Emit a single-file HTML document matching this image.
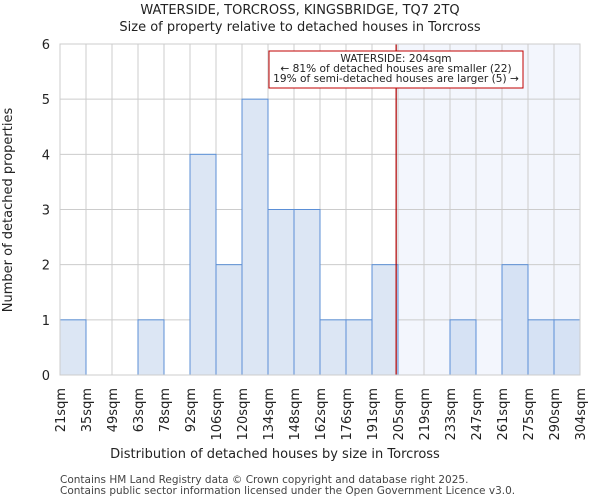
<!DOCTYPE html>
<html><head><meta charset="utf-8"><style>
body{margin:0;background:#fff;font-family:"DejaVu Sans","Liberation Sans",sans-serif;}
</style></head><body>
<svg id="c" width="600" height="500" xmlns="http://www.w3.org/2000/svg" font-family="DejaVu Sans, Liberation Sans, sans-serif">
<text x="300" y="14" text-anchor="middle" font-size="13" fill="#222">WATERSIDE, TORCROSS, KINGSBRIDGE, TQ7 2TQ</text>
<text x="300" y="31" text-anchor="middle" font-size="13" fill="#222">Size of property relative to detached houses in Torcross</text>
<g id="plot"></g>
<text x="275" y="458" text-anchor="middle" font-size="13" fill="#222">Distribution of detached houses by size in Torcross</text>
<text transform="translate(12,210) rotate(-90)" text-anchor="middle" font-size="13" fill="#222">Number of detached properties</text>
<text x="60" y="483" font-size="10.5" fill="#444">Contains HM Land Registry data © Crown copyright and database right 2025.</text>
<text x="60" y="494" font-size="10.5" fill="#444">Contains public sector information licensed under the Open Government Licence v3.0.</text>
</svg>
<script>
const labels=["21sqm","35sqm","49sqm","63sqm","78sqm","92sqm","106sqm","120sqm","134sqm","148sqm","162sqm","176sqm","191sqm","205sqm","219sqm","233sqm","247sqm","261sqm","275sqm","290sqm","304sqm"];
const edges=[21,35,49,63,78,92,106,120,134,148,162,176,191,205,219,233,247,261,275,290,304];
const counts=[1,0,0,1,0,4,2,5,3,3,1,1,2,0,0,1,0,2,1,1];
const yTicks=[0,1,2,3,4,5,6];
const propertySize=204;
const NS="http://www.w3.org/2000/svg";
const X0=60,X1=580,Y0=375,Y1=44;
const n=counts.length;
const xi=i=>X0+(X1-X0)*i/n;
function xv(v){for(let i=0;i<edges.length-1;i++){if(v<=edges[i+1])return xi(i)+(v-edges[i])/(edges[i+1]-edges[i])*(xi(i+1)-xi(i));}return X1;}
const y=v=>Y0-(Y0-Y1)*v/6;
const g=document.getElementById('plot');
function mk(t,a){const e=document.createElementNS(NS,t);for(const k in a)e.setAttribute(k,a[k]);g.appendChild(e);return e;}
const px=xv(propertySize);
let e=mk('rect',{x:px,y:Y1,width:X1-px,height:Y0-Y1,fill:'#f3f6fd'});


for(let i=0;i<=n;i++){e=mk('line',{x1:xi(i),x2:xi(i),y1:Y1,y2:Y0,stroke:'#cccccc','stroke-width':1});

}
yTicks.forEach(t=>{e=mk('line',{x1:X0,x2:X1,y1:y(t),y2:y(t),stroke:'#cccccc','stroke-width':1});


e=mk('text',{x:X0-10,y:y(t)+5,'text-anchor':'end','font-size':13,fill:'#222'});e.textContent=t;

});
counts.forEach((c,i)=>{if(c>0){const right=xi(i)>=px;e=mk('rect',{x:xi(i),y:y(c),width:xi(i+1)-xi(i),height:Y0-y(c),fill:right?'#d6e2f4':'#dce6f4',stroke:'#5b8fd6','stroke-width':1});

}});
labels.forEach((l,i)=>{e=mk('text',{transform:`translate(${xi(i)+5},388) rotate(-90)`,'text-anchor':'end','font-size':13,fill:'#222'});e.textContent=l;

});
e=mk('line',{x1:px,x2:px,y1:Y1,y2:Y0,stroke:'#b00000','stroke-width':1.2});


e=mk('rect',{x:X0,y:Y1,width:X1-X0,height:Y0-Y1,fill:'none',stroke:'#cccccc'});


e=mk('rect',{x:269,y:51,width:254,height:37,fill:'#fff',stroke:'#c00000','stroke-width':1});


["WATERSIDE: 204sqm","← 81% of detached houses are smaller (22)","19% of semi-detached houses are larger (5) →"].forEach((t,k)=>{e=mk('text',{x:396,y:62+k*10,'text-anchor':'middle','font-size':10.6,fill:'#222'});e.textContent=t;

});
</script>
</body></html>
